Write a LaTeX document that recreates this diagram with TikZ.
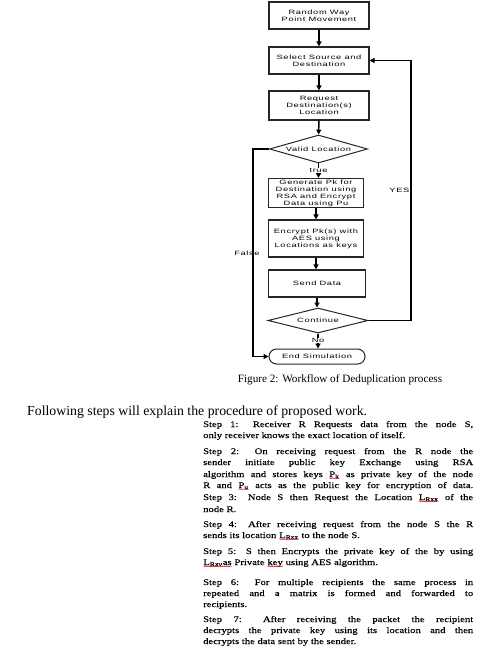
\documentclass[tikz,border=0pt]{standalone}
\usepackage{fontspec}
\setmainfont{Liberation Serif}
\newfontfamily\fcfont[LetterSpace=10,FakeStretch=1.5]{Liberation Sans}
\newfontfamily\stepfont[FakeStretch=1.25,FakeBold=0.3]{Liberation Serif}
\usetikzlibrary{shapes.geometric,arrows.meta,decorations.pathmorphing}
\newcommand{\stepsize}{\stepfont\fontsize{8.5}{10}\selectfont}
\newcommand{\jline}[2]{\node[stepline] at (203,#1) {\stepsize\makebox[270pt][s]{#2}};}
\newcommand{\nline}[2]{\node[stepline] at (203,#1) {\stepsize #2};}
\newcommand{\squig}[1]{\tikz[baseline=(sq.base)]{\node[inner sep=0pt,outer sep=0pt] (sq) {#1};\draw[red!85!black, line width=0.4pt, decorate, decoration={snake, amplitude=0.5pt, segment length=2pt}] ([yshift=-1.3pt]sq.base west) -- ([yshift=-1.3pt]sq.base east);}}
\begin{document}
\begin{tikzpicture}[x=1pt,y=-1pt,
  fc/.style={font=\fcfont\fontsize{6.2}{7}\selectfont},
  box/.style={fc, draw=black!85, line width=1.1pt, minimum width=100pt, minimum height=27pt, align=center, inner sep=1pt},
  dia/.style={fc, draw=black!85, line width=1pt, diamond, aspect=4, inner sep=0pt, minimum width=98pt, minimum height=28pt},
  term/.style={fc, draw=black!85, line width=1pt, rounded corners=7.5pt, minimum width=96pt, minimum height=15pt, inner sep=0pt},
  arr/.style={line width=1.5pt, -{Triangle[length=5pt,width=5pt]}},
  lbl/.style={fc, inner sep=0.5pt},
  stepline/.style={anchor=base west, inner sep=0pt}
]
\useasboundingbox (0,0) rectangle (498,647);
\node[box] (b1) at (319,15.5) {Random Way\\Point Movement};
\node[box] (b2) at (319,60.5) {Select Source and\\Destination};
\node[box, minimum height=29pt] (b3) at (319,105.5) {Request\\Destination(s)\\Location};
\node[dia] (d1) at (318.5,149) {Valid Location};
\node[box, minimum width=95pt, minimum height=28pt] (b4) at (316,193) {Generate Pk for\\Destination using\\RSA and Encrypt\\Data using Pu};
\node[box, minimum width=95pt, minimum height=37pt] (b5) at (316,238.5) {Encrypt Pk(s) with\\AES using\\Locations as keys};
\node[box, minimum width=97pt, minimum height=27pt] (b6) at (317,283.5) {Send Data};
\node[dia, minimum width=100pt, minimum height=25pt] (d2) at (318,320.5) {Continue};
\node[term] (t) at (317,356.5) {End Simulation};

\draw[arr] (b1) -- (b2);
\draw[arr] (b2) -- (b3);
\draw[arr] (b3) -- (d1);
\draw[arr] (d1) -- node[lbl, pos=0.45, fill=white] {true} (d1 |- b4.north);
\draw[arr] (b4) -- (b4 |- b5.north);
\draw[arr] (b5) -- (b5 |- b6.north);
\draw[arr] (b6) -- (b6 |- d2.north);
\draw[arr] (d2) -- node[lbl, pos=0.45, fill=white] {No} (d2 |- t.north);
\coordinate (fl) at (253,149);
\draw[arr] (d1.west) -- (fl) |- (t.west);
\coordinate (yr) at (411,320.5);
\draw[arr] (d2.east) -- (yr) |- (b2.east);
\node[lbl] at (247,253) {False};
\node[lbl, anchor=east] at (410,190) {YES};

\node[font=\fontsize{11.2}{13}\selectfont] (cap) at (340,380) {Figure 2: Workflow of Deduplication process};
\node[anchor=base west, inner sep=0pt, font=\fontsize{13.8}{15}\selectfont] (intro) at (27,415) {Following steps will explain the procedure of proposed work.};

\jline{427}{Step 1: Receiver R Requests data from the node S,}
\nline{438}{only receiver knows the exact location of itself.}
\jline{454}{Step 2: On receiving request from the R node the}
\jline{465}{sender initiate public key Exchange using RSA}
\jline{477}{algorithm and stores keys \squig{P\textsubscript{k}} as private key of the node}
\jline{488}{R and \squig{P\textsubscript{u}} acts as the public key for encryption of data.}
\jline{500}{Step 3: Node S then Request the Location \squig{L\textsubscript{Rxx}} of the}
\nline{512}{node R.}
\jline{527}{Step 4: After receiving request from the node S the R}
\nline{538}{sends its location \squig{L\textsubscript{Rxx}} to the node S.}
\jline{554}{Step 5: S then Encrypts the private key of the by using}
\nline{565}{\squig{L\textsubscript{Rxv}as} Private \squig{key} using AES algorithm.}
\jline{585}{Step 6: For multiple recipients the same process in}
\jline{596}{repeated and a matrix is formed and forwarded to}
\nline{607}{recipients.}
\jline{622}{Step 7: After receiving the packet the recipient}
\jline{633}{decrypts the private key using its location and then}
\nline{644}{decrypts the data sent by the sender.}
\end{tikzpicture}
\end{document}
